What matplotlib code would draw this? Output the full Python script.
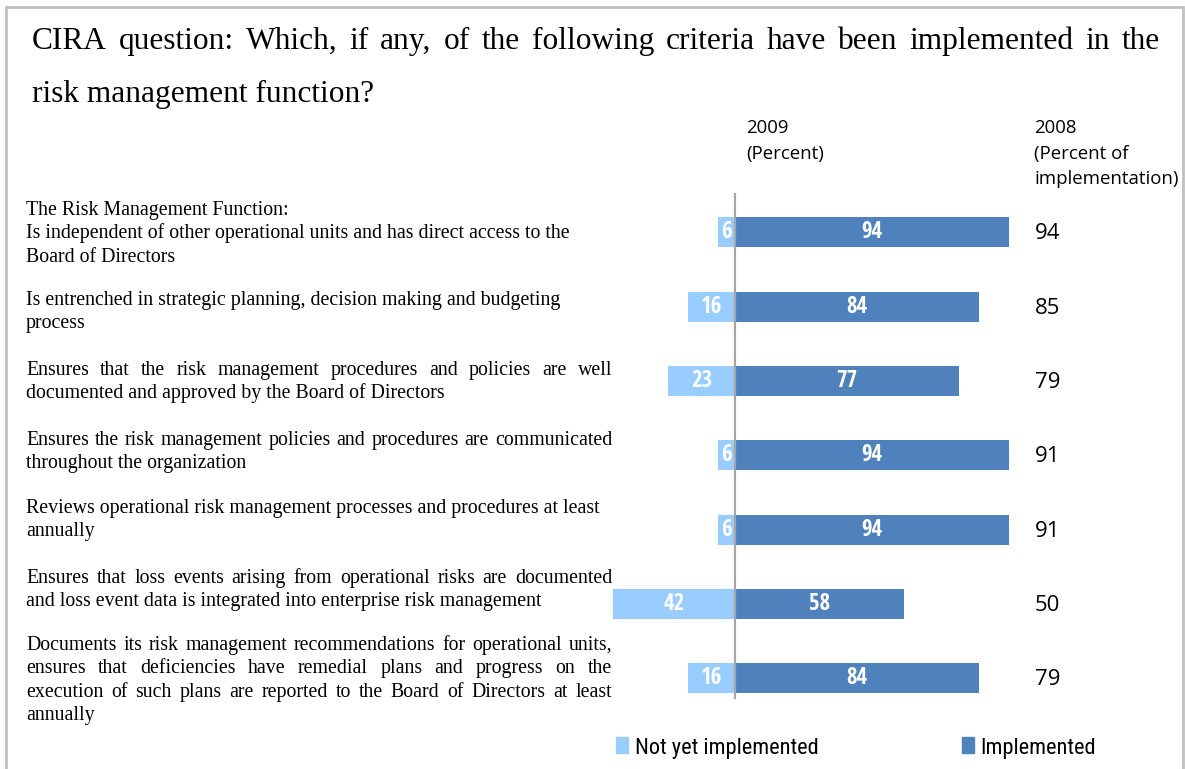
import matplotlib
matplotlib.use("Agg")
import logging
import matplotlib.pyplot as plt
from matplotlib.patches import Rectangle

logging.getLogger("matplotlib.font_manager").setLevel(logging.ERROR)

# ---- data -------------------------------------------------------------
criteria = [
    ["The Risk Management Function:",
     "Is independent of other operational units and has direct access to the",
     "Board of Directors"],
    ["Is entrenched in strategic planning, decision making and budgeting",
     "process"],
    ["Ensures that the risk management procedures and policies are well",
     "documented and approved by the Board of Directors"],
    ["Ensures the risk management policies and procedures are communicated",
     "throughout the organization"],
    ["Reviews operational risk management processes and procedures at least",
     "annually"],
    ["Ensures that loss events arising from operational risks are documented",
     "and loss event data is integrated into enterprise risk management"],
    ["Documents its risk management recommendations for operational units,",
     "ensures that deficiencies have remedial plans and progress on the",
     "execution of such plans are reported to the Board of Directors at least",
     "annually"],
]
not_yet_2009 = [6, 16, 23, 6, 6, 42, 16]
implemented_2009 = [94, 84, 77, 94, 94, 58, 84]
implemented_2008 = [94, 85, 79, 91, 91, 50, 79]

title_lines = [
    "CIRA question: Which, if any, of the following criteria have been implemented in the",
    "risk management function?",
]
header_2009 = ["2009", "(Percent)"]
header_2008 = ["2008", "(Percent of", "implementation)"]
legend_labels = ["Not yet implemented", "Implemented"]

# ---- style --------------------------------------------------------------
W, H = 1185, 769
DARK = "#4F81BD"
LIGHT = "#99CCFF"
SERIF = ["Liberation Serif", "DejaVu Serif"]
NARROW = ["Open Sans Condensed", "Roboto Condensed", "Archivo Narrow", "DejaVu Sans"]
NARROW_REG = ["Roboto Condensed", "Sofia Sans Condensed", "Archivo Narrow", "DejaVu Sans"]
SANS = ["Open Sans", "DejaVu Sans"]

fig = plt.figure(figsize=(W / 100, H / 100), dpi=100)
fig.patch.set_facecolor("white")
renderer = fig.canvas.get_renderer()


def fx(x):
    return x / W


def fy(y):
    return 1 - y / H


def text_width(s, **kw):
    t = fig.text(0, 0, s, **kw)
    w = t.get_window_extent(renderer).width
    t.remove()
    return w


def draw_line(s, x0, x1, baseline, justify, **kw):
    """Draw a line of text starting at x0; when justify is set, spread the
    words so the line ends exactly at x1."""
    words = s.split(" ")
    if not justify or len(words) < 2:
        fig.text(fx(x0), fy(baseline), s, va="baseline", ha="left", **kw)
        return
    widths = [text_width(w, **kw) for w in words]
    gap = (x1 - x0 - sum(widths)) / (len(words) - 1)
    x = x0
    for w, wd in zip(words, widths):
        fig.text(fx(x), fy(baseline), w, va="baseline", ha="left", **kw)
        x += wd + gap


# frame around the figure
fig.patches.append(Rectangle((fx(6), -0.05), fx(1183) - fx(6), fy(7) + 0.05,
                             transform=fig.transFigure, fill=False,
                             ec="#c0c0c0", lw=2, zorder=0))

# title
title_kw = dict(fontsize=22.6, family=SERIF, color="black")
draw_line(title_lines[0], 32, 1160, 49, True, **title_kw)
draw_line(title_lines[1], 32, 1160, 102, False, **title_kw)

# category labels on the left
label_kw = dict(fontsize=14.3, family=SERIF, color="black")
label_first_baselines = [215, 305, 375, 445, 513, 583, 650]
label_justify = [False, False, True, True, False, True, True]
line_step = 23.3
for lines, b0, just in zip(criteria, label_first_baselines, label_justify):
    for i, ln in enumerate(lines):
        last = i == len(lines) - 1
        draw_line(ln, 26, 612, b0 + i * line_step, just and not last, **label_kw)

# column headers
hdr_kw = dict(fontsize=13.4, family=SANS, color="black")
for i, s in enumerate(header_2009):
    draw_line(s, 746, 0, 133 + i * 25.5, False, **hdr_kw)
for i, s in enumerate(header_2008):
    draw_line(s, 1034, 0, 133 + i * 25.5, False, **hdr_kw)

# ---- bars -----------------------------------------------------------------
px_per_unit = 2.91
zero_x = 735
xmin, xmax = -50, 100
ax_left = zero_x + xmin * px_per_unit
ax_right = zero_x + xmax * px_per_unit
ax_top, ax_bottom = 193, 699
ax = fig.add_axes([fx(ax_left), fy(ax_bottom),
                   fx(ax_right) - fx(ax_left), fy(ax_top) - fy(ax_bottom)])
ypos = list(range(len(criteria)))
neg = [-v for v in not_yet_2009]
b_light = ax.barh(ypos, neg, height=0.405, color=LIGHT, zorder=2)
b_dark = ax.barh(ypos, implemented_2009, height=0.405, color=DARK, zorder=2)
ax.axvline(0, color="#a6a6a6", lw=1.6, zorder=3)
ax.set_xlim(xmin, xmax)
ax.set_ylim(6.28, -0.53)
ax.axis("off")

bar_txt = dict(color="white", fontsize=16.5, fontweight="bold", family=NARROW)
ax.bar_label(b_light, labels=[str(v) for v in not_yet_2009],
             label_type="center", **bar_txt)
ax.bar_label(b_dark, labels=[str(v) for v in implemented_2009],
             label_type="center", **bar_txt)

# 2008 values on the right
for y, v in zip(ypos, implemented_2008):
    ax.annotate(str(v), xy=(0, y), xycoords=("axes fraction", "data"),
                xytext=(fx(1035), 1), textcoords=("figure fraction", "offset pixels"),
                va="center_baseline", ha="left", fontsize=16, family=SANS)

# ---- legend -----------------------------------------------------------------
leg_kw = dict(fontsize=16.1, family=NARROW_REG, fontweight="normal", color="black")
for (sx, tx), lab, col in zip([(616, 635), (962, 980)], legend_labels, [LIGHT, DARK]):
    fig.patches.append(Rectangle((fx(sx), fy(753)), fx(12), 16 / H,
                                 transform=fig.transFigure, color=col))
    draw_line(lab, tx, 0, 754, False, **leg_kw)

fig.savefig("out.png", dpi=100)
